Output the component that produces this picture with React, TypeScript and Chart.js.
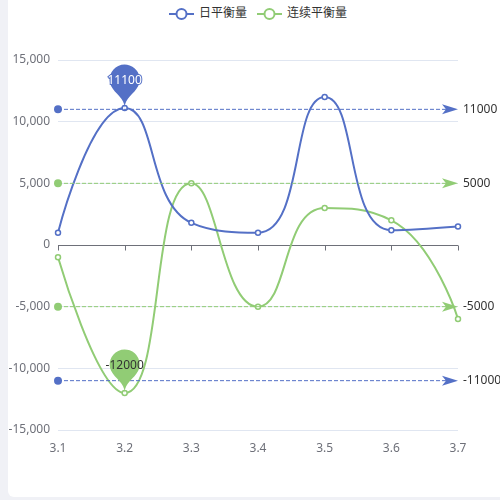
import { useEffect, useRef } from 'react';
import Chart from 'chart.js/auto';

const categories = ['3.1', '3.2', '3.3', '3.4', '3.5', '3.6', '3.7'];
const dailyBalance = [1000, 11100, 1800, 1000, 12000, 1200, 1500];
const runningBalance = [-1000, -12000, 5000, -5000, 3000, 2000, -6000];
const yRange = [-15000, 15000];
const yStep = 5000;
const dailyMarkLines = [11000, -11000];
const runningMarkLines = [5000, -5000];
const dailyPin = ['3.2', 11100] as const;
const runningPin = ['3.2', -12000] as const;
const seriesNames = ['日平衡量', '连续平衡量'];

const BLUE = '#5470c6';
const GREEN = '#91cc75';
const AXIS = '#6e7079';
const FONT = "'Noto Sans', 'Noto Sans CJK SC', sans-serif";
const SMOOTH = 0.5;

Chart.defaults.font.family = FONT;

// extra marks (ECharts style markLine / markPoint) drawn through the chart scales
const marks = [
  { color: BLUE, lines: dailyMarkLines, pin: dailyPin, pinText: '#fff' },
  { color: GREEN, lines: runningMarkLines, pin: runningPin, pinText: '#333' },
];

// ECharts-like smoothing: control points clamped between neighbours, no overshoot
const smoothPlugin = {
  id: 'clampedSmooth',
  beforeDatasetsDraw(chart: any) {
    chart.data.datasets.forEach((_: any, di: number) => {
      const meta = chart.getDatasetMeta(di);
      const pts = meta.data;
      const n = pts.length;
      let cp0x = pts[0].x;
      let cp0y = pts[0].y;
      pts[0].cp1x = pts[0].x;
      pts[0].cp1y = pts[0].y;
      for (let i = 1; i < n; i++) {
        const { x, y } = pts[i];
        const prev = pts[i - 1];
        let cp1x = x;
        let cp1y = y;
        let nx = x;
        let ny = y;
        if (i < n - 1) {
          const next = pts[i + 1];
          let vx = next.x - prev.x;
          let vy = next.y - prev.y;
          const lenPrev = Math.hypot(x - prev.x, y - prev.y);
          const lenNext = Math.hypot(next.x - x, next.y - y);
          const ratio = lenNext / (lenNext + lenPrev);
          nx = x + vx * SMOOTH * ratio;
          ny = y + vy * SMOOTH * ratio;
          nx = Math.max(Math.min(nx, Math.max(next.x, x)), Math.min(next.x, x));
          ny = Math.max(Math.min(ny, Math.max(next.y, y)), Math.min(next.y, y));
          vx = nx - x;
          vy = ny - y;
          cp1x = x - (vx * lenPrev) / lenNext;
          cp1y = y - (vy * lenPrev) / lenNext;
          cp1x = Math.max(Math.min(cp1x, Math.max(prev.x, x)), Math.min(prev.x, x));
          cp1y = Math.max(Math.min(cp1y, Math.max(prev.y, y)), Math.min(prev.y, y));
          vx = x - cp1x;
          vy = y - cp1y;
          nx = x + (vx * lenNext) / lenPrev;
          ny = y + (vy * lenNext) / lenPrev;
        }
        prev.cp2x = cp0x;
        prev.cp2y = cp0y;
        pts[i].cp1x = cp1x;
        pts[i].cp1y = cp1y;
        cp0x = nx;
        cp0y = ny;
      }
      pts[n - 1].cp2x = pts[n - 1].x;
      pts[n - 1].cp2y = pts[n - 1].y;
      meta.dataset._pointsUpdated = true;
      delete meta.dataset._path;
    });
  },
};

const zeroAxisPlugin = {
  id: 'zeroAxis',
  beforeDatasetsDraw(chart: any) {
    const { ctx, chartArea, scales } = chart;
    const y0 = Math.round(scales.y.getPixelForValue(0)) + 0.5;
    ctx.save();
    ctx.strokeStyle = AXIS;
    ctx.lineWidth = 1;
    ctx.beginPath();
    ctx.moveTo(chartArea.left, y0);
    ctx.lineTo(chartArea.right, y0);
    categories.forEach((_, i) => {
      const x = Math.round(scales.x.getPixelForValue(i)) + 0.5;
      ctx.moveTo(x, y0);
      ctx.lineTo(x, y0 + 5);
    });
    ctx.stroke();
    ctx.restore();
  },
};

function drawPin(ctx: CanvasRenderingContext2D, x: number, y: number) {
  const w = 30;
  const h = 50;
  const r = w / 2;
  const dy = (r * r) / (h - r);
  const cy = y - h + r + dy;
  const angle = Math.asin(dy / r);
  const dx = Math.cos(angle) * r;
  const tanX = Math.sin(angle);
  const tanY = Math.cos(angle);
  const cpLen = r * 0.6;
  const cpLen2 = r * 0.7;
  ctx.beginPath();
  ctx.moveTo(x - dx, cy + dy);
  ctx.arc(x, cy, r, Math.PI - angle, Math.PI * 2 + angle);
  ctx.bezierCurveTo(x + dx - tanX * cpLen, cy + dy + tanY * cpLen, x, y - cpLen2, x, y);
  ctx.bezierCurveTo(x, y - cpLen2, x - dx + tanX * cpLen, cy + dy + tanY * cpLen, x - dx, cy + dy);
  ctx.closePath();
  ctx.fill();
  return cy;
}

const marksPlugin = {
  id: 'marks',
  afterDatasetsDraw(chart: any) {
    const { ctx, chartArea, scales } = chart;
    ctx.save();
    marks.forEach((m) => {
      m.lines.forEach((v) => {
        const y = scales.y.getPixelForValue(v);
        const x0 = chartArea.left;
        const x1 = chartArea.right;
        ctx.strokeStyle = m.color;
        ctx.fillStyle = m.color;
        ctx.lineWidth = 1;
        ctx.setLineDash([4, 2]);
        ctx.beginPath();
        ctx.moveTo(x0, y);
        ctx.lineTo(x1 - 6, y);
        ctx.stroke();
        ctx.setLineDash([]);
        ctx.beginPath();
        ctx.arc(x0, y, 4, 0, Math.PI * 2);
        ctx.fill();
        // arrow head pointing right
        ctx.beginPath();
        ctx.moveTo(x1, y);
        ctx.lineTo(x1 - 16, y - 5);
        ctx.lineTo(x1 - 12, y);
        ctx.lineTo(x1 - 16, y + 5);
        ctx.closePath();
        ctx.fill();
        ctx.fillStyle = '#333';
        ctx.font = `12px ${FONT}`;
        ctx.textAlign = 'left';
        ctx.textBaseline = 'middle';
        ctx.fillText(String(v), x1 + 5, y);
      });
    });
    marks.forEach((m) => {
      const x = scales.x.getPixelForValue(categories.indexOf(m.pin[0]));
      const y = scales.y.getPixelForValue(m.pin[1]);
      ctx.fillStyle = m.color;
      const cy = drawPin(ctx, x, y);
      ctx.font = `12px ${FONT}`;
      ctx.textAlign = 'center';
      ctx.textBaseline = 'middle';
      if (m.pinText === '#fff') {
        ctx.strokeStyle = m.color;
        ctx.lineWidth = 2;
        ctx.strokeText(String(m.pin[1]), x, cy + 1);
      }
      ctx.fillStyle = m.pinText;
      ctx.fillText(String(m.pin[1]), x, cy + 1);
    });
    ctx.restore();
  },
};

function LegendIcon({ color }: { color: string }) {
  return (
    <svg width="25" height="14" style={{ verticalAlign: 'middle', marginRight: 5 }}>
      <line x1="0" y1="7" x2="25" y2="7" stroke={color} strokeWidth="2" />
      <circle cx="12.5" cy="7" r="5" fill="#fff" stroke={color} strokeWidth="2" />
    </svg>
  );
}

export default function App() {
  const canvasRef = useRef<HTMLCanvasElement>(null);

  useEffect(() => {
    if (!canvasRef.current) return;
    const common = {
      borderWidth: 2,
      pointRadius: 2.5,
      pointBorderWidth: 1.5,
      pointBackgroundColor: '#fff',
      tension: SMOOTH,
      fill: false,
    };
    const chart = new Chart(canvasRef.current, {
      type: 'line',
      data: {
        labels: categories,
        datasets: [
          { ...common, label: seriesNames[0], data: dailyBalance, borderColor: BLUE, backgroundColor: BLUE, pointBorderColor: BLUE },
          { ...common, label: seriesNames[1], data: runningBalance, borderColor: GREEN, backgroundColor: GREEN, pointBorderColor: GREEN },
        ],
      },
      options: {
        responsive: true,
        maintainAspectRatio: false,
        animation: false,
        locale: 'en-US',
        layout: { padding: { left: 0, right: 42, top: 60, bottom: 0 } },
        plugins: { legend: { display: false }, tooltip: { enabled: false } },
        scales: {
          x: {
            type: 'category',
            offset: false,
            grid: { display: false },
            border: { display: false },
            ticks: { color: AXIS, font: { size: 12 }, padding: 3, maxRotation: 0, autoSkip: false },
            afterFit: (s: any) => { s.height = 70; },
          },
          y: {
            min: yRange[0],
            max: yRange[1],
            ticks: { stepSize: yStep, color: AXIS, font: { size: 12 }, padding: 8 },
            grid: {
              drawTicks: false,
              color: (c: any) => (c.tick && c.tick.value === 0 ? 'transparent' : '#e0e6f1'),
            },
            border: { display: false },
            afterFit: (s: any) => { s.width = 58; },
          },
        },
      },
      plugins: [smoothPlugin, zeroAxisPlugin, marksPlugin],
    });
    return () => chart.destroy();
  }, []);

  return (
    <div style={{ position: 'fixed', left: 0, top: 0, width: 500, height: 500, background: '#f0f1f6', overflow: 'hidden' }}>
      <div style={{ position: 'absolute', left: 8, top: -10, width: 520, height: 507, background: '#fff', borderRadius: 6 }} />
      <div
        style={{
          position: 'absolute', left: 8, top: 4, width: 500, textAlign: 'center',
          fontFamily: "'Noto Sans CJK SC', sans-serif", fontSize: 12, color: '#333', lineHeight: '16px',
        }}
      >
        <span style={{ marginRight: 10 }}><LegendIcon color={BLUE} />{seriesNames[0]}</span>
        <span><LegendIcon color={GREEN} />{seriesNames[1]}</span>
      </div>
      <div style={{ position: 'absolute', left: 0, top: 0, width: 500, height: 500 }}>
        <canvas ref={canvasRef} />
      </div>
    </div>
  );
}
